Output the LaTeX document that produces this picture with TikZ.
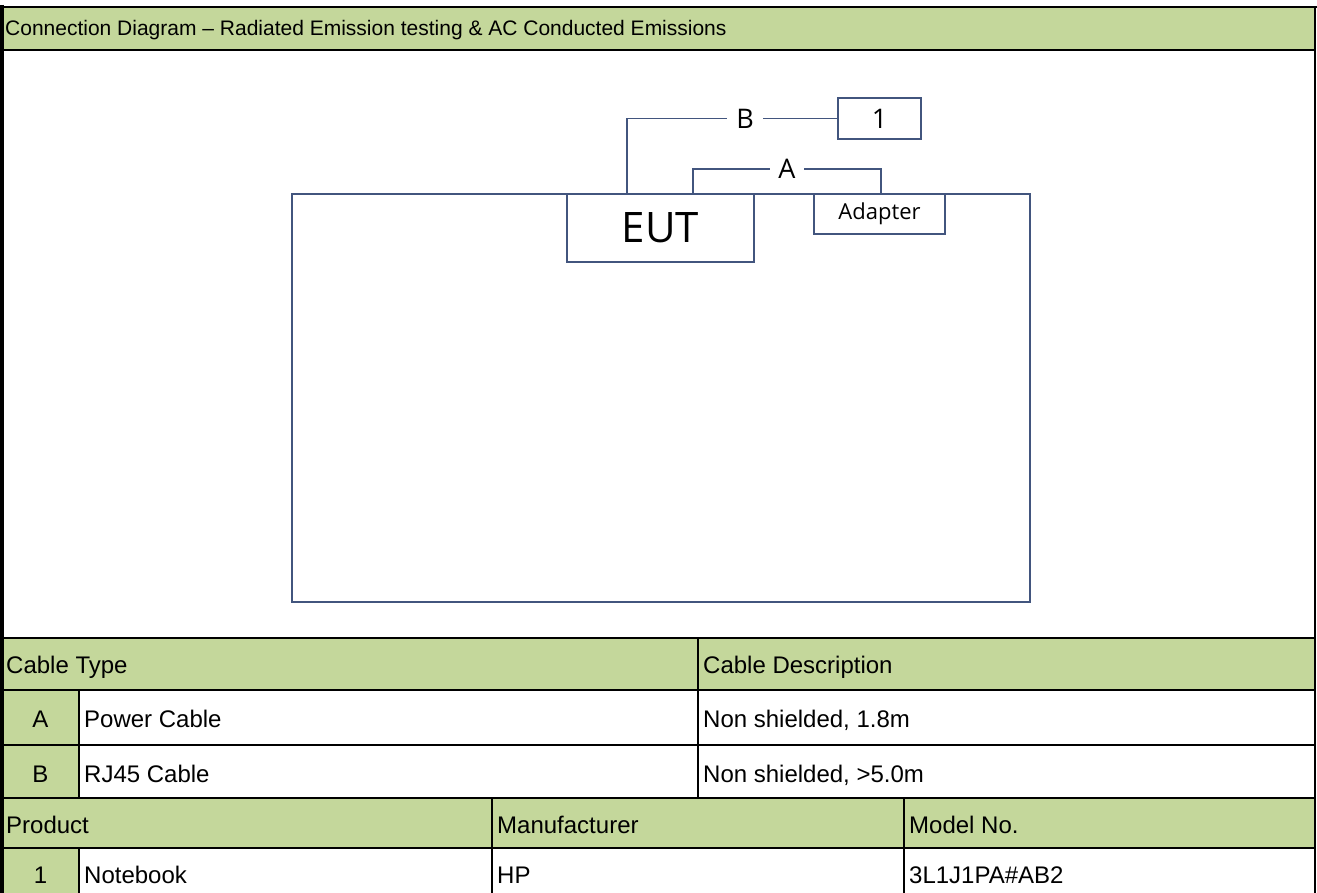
\documentclass[tikz,border=0pt]{standalone}
\usepackage{fontspec}
\setmainfont{Liberation Sans}
\newfontfamily\diagfont{Open Sans}
\usetikzlibrary{positioning}
\definecolor{cellgreen}{HTML}{C4D79B}
\definecolor{wireblue}{HTML}{42557E}

\begin{document}
\begin{tikzpicture}[x=1pt, y=-1pt,
    grid/.style={line width=2.4pt},
    txt/.style={anchor=base west, inner sep=0pt, font=\fontsize{24}{28}\selectfont},
    ctxt/.style={anchor=base, inner sep=0pt, font=\fontsize{24}{28}\selectfont},
    part/.style={draw=wireblue, line width=1.8pt, fill=white, inner sep=0pt, outer sep=0pt, anchor=north west},
    wire/.style={draw=wireblue, line width=1.8pt},
    tag/.style={fill=white, inner sep=0pt, minimum width=36pt, font=\diagfont\fontsize{27}{30}\selectfont}]
    \useasboundingbox (0,0) rectangle (1317,893);

    % green bands
    \fill[cellgreen] (2,7) rectangle (1315,50);
    \fill[cellgreen] (2,638) rectangle (1315,690);
    \fill[cellgreen] (2,798) rectangle (1315,848);
    \fill[cellgreen] (2,690) rectangle (79,893);

    % frame and grid
    \draw[line width=4pt] (2,5) -- (2,893);
    \draw[grid] (0,7) -- (1317,7);
    \draw[line width=2pt] (1315,7) -- (1315,893);
    \foreach \y in {50,638,690,745,798,848}
        \draw[grid] (2,\y) -- (1315,\y);
    \draw[grid] (698,638) -- (698,798);
    \draw[grid] (79,690) -- (79,798);
    \draw[grid] (79,848) -- (79,893);
    \draw[grid] (492,798) -- (492,893);
    \draw[grid] (904,798) -- (904,893);

    % setup
    \node[part, minimum width=738pt, minimum height=408pt] (desk) at (292,194) {};
    \node[part, minimum width=187pt, minimum height=68pt, font=\diagfont\fontsize{42}{46}\selectfont] (eut) at (567,194) {EUT};
    \node[part, minimum width=131pt, minimum height=40pt, font=\diagfont\fontsize{22}{26}\selectfont] (adapter) at (814,194) {Adapter};
    \node[part, minimum width=83pt, minimum height=41pt, font=\diagfont\fontsize{27}{30}\selectfont] (pc) at (838,98) {1};

    \draw[wire] ([xshift=60pt]eut.north west) |- node[tag, pos=0.78] (lblB) {B} (pc.west);
    \draw[wire] ([xshift=126pt]eut.north west) -- ++(0,-25) -| node[tag, pos=0.25, minimum width=34pt] (lblA) {A} ([xshift=67pt]adapter.north west);

    % texts
    \node[txt, font=\fontsize{21}{25}\selectfont] (title) at (5,36) {Connection Diagram – Radiated Emission testing \& AC Conducted Emissions};
    \node[txt] (ctype) at (6,673) {Cable Type};
    \node[txt] (cdesc) at (703,673) {Cable Description};
    \node[ctxt] (keyA) at (40.5,727) {A};
    \node[txt] (typeA) at (84,727) {Power Cable};
    \node[txt] (descA) at (703,727) {Non shielded, 1.8m};
    \node[ctxt] (keyB) at (40.5,782) {B};
    \node[txt] (typeB) at (84,782) {RJ45 Cable};
    \node[txt] (descB) at (703,782) {Non shielded, >5.0m};
    \node[txt] (product) at (6,833) {Product};
    \node[txt] (maker) at (497,833) {Manufacturer};
    \node[txt] (model) at (909,833) {Model No.};
    \node[ctxt] (key1) at (40.5,883) {1};
    \node[txt] (prod1) at (84,883) {Notebook};
    \node[txt] (maker1) at (497,883) {HP};
    \node[txt] (model1) at (909,883) {3L1J1PA\#AB2};
\end{tikzpicture}
\end{document}
